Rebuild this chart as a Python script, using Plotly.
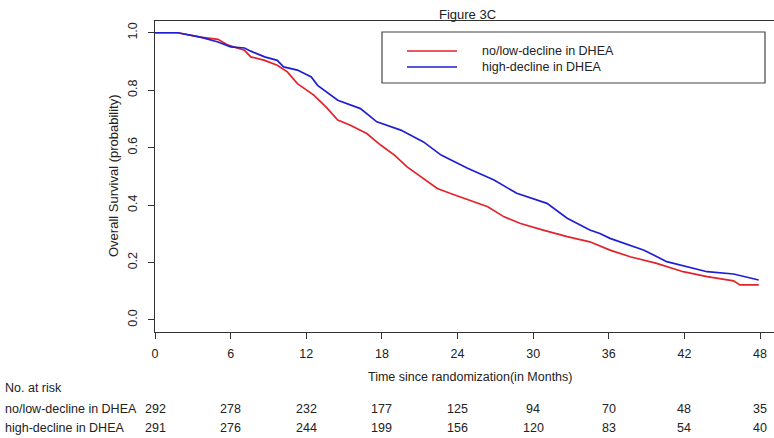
import plotly.graph_objects as go

# Kaplan-Meier curves (months, survival probability)
red_t = [0, 1.8, 3.6, 5.0, 5.8, 7.1, 7.6, 8.7, 9.7, 10.5, 11.3, 12.1, 12.6, 13.6, 14.5, 15.5,
         16.8, 17.9, 19.0, 20.0, 21.1, 22.4, 23.4, 25.0, 26.4, 27.7, 29.0, 30.8, 32.7, 34.5,
         36.1, 37.7, 39.8, 41.9, 43.8, 45.9, 46.4, 47.9]
red_s = [1.0, 1.0, 0.985, 0.977, 0.957, 0.939, 0.916, 0.904, 0.887, 0.864, 0.823, 0.800, 0.783,
         0.740, 0.696, 0.678, 0.649, 0.609, 0.574, 0.533, 0.498, 0.458, 0.441, 0.417, 0.394,
         0.359, 0.336, 0.313, 0.290, 0.272, 0.243, 0.220, 0.197, 0.168, 0.151, 0.136, 0.122, 0.122]

blue_t = [0, 1.8, 3.6, 5.0, 6.0, 7.1, 7.6, 8.7, 9.7, 10.2, 11.3, 12.4, 12.9, 14.5, 16.3, 17.6,
          19.5, 21.3, 22.7, 24.8, 26.9, 28.7, 31.1, 32.7, 34.5, 35.3, 36.1, 36.9, 38.8, 40.6,
          42.2, 43.8, 45.9, 47.2, 47.9]
blue_s = [1.0, 1.0, 0.985, 0.968, 0.951, 0.947, 0.936, 0.916, 0.904, 0.881, 0.870, 0.846, 0.817,
          0.765, 0.736, 0.690, 0.661, 0.620, 0.574, 0.528, 0.487, 0.441, 0.406, 0.354, 0.313,
          0.301, 0.284, 0.272, 0.243, 0.203, 0.186, 0.168, 0.160, 0.148, 0.139]

series_names = ["no/low-decline in DHEA", "high-decline in DHEA"]
risk_times = [0, 6, 12, 18, 24, 30, 36, 42, 48]
risk_red = [292, 278, 232, 177, 125, 94, 70, 48, 35]
risk_blue = [291, 276, 244, 199, 156, 120, 83, 54, 40]
x_ticks = [0, 6, 12, 18, 24, 30, 36, 42, 48]
y_ticks = [0.0, 0.2, 0.4, 0.6, 0.8, 1.0]

RED = "#e3232b"
BLUE = "#1f1fd2"
AXC = "#333333"
TXT = "#222222"
FONT = "Liberation Sans, Arial, sans-serif"
FS = 12.5

W, H = 774, 438
L, R, T, B = 155, 0, 21, 106
PW, PH = W - L - R, H - T - B


def px(xp):
    return (xp - L) / PW


def py(yp):
    return (H - B - yp) / PH


fig = go.Figure()
fig.add_trace(go.Scatter(x=red_t, y=red_s, mode="lines", name=series_names[0],
                         line=dict(color=RED, width=1.7), showlegend=False))
fig.add_trace(go.Scatter(x=blue_t, y=blue_s, mode="lines", name=series_names[1],
                         line=dict(color=BLUE, width=1.7), showlegend=False))

annotations = []
shapes = []

# title
annotations.append(dict(text="Figure 3C", x=px(467), y=py(14), xref="paper", yref="paper",
                        showarrow=False, xanchor="center", yanchor="middle",
                        font=dict(size=13, color=TXT, family=FONT)))

# legend box
shapes.append(dict(type="rect", xref="paper", yref="paper", x0=px(382), x1=px(765),
                   y0=py(83), y1=py(32), line=dict(color="#444444", width=1.2),
                   fillcolor="white", layer="above"))
for i, (c, yy) in enumerate([(RED, 51), (BLUE, 67)]):
    shapes.append(dict(type="line", xref="paper", yref="paper", x0=px(407), x1=px(457),
                       y0=py(yy), y1=py(yy), line=dict(color=c, width=1.4), layer="above"))
    annotations.append(dict(text=series_names[i], x=px(480), y=py(yy), xref="paper", yref="paper",
                            showarrow=False, xanchor="left", yanchor="middle",
                            font=dict(size=FS, color=TXT, family=FONT)))

# axis titles
annotations.append(dict(text="Time since randomization(in Months)", x=px(470), y=py(377),
                        xref="paper", yref="paper", showarrow=False, xanchor="center",
                        yanchor="middle", font=dict(size=FS, color=TXT, family=FONT)))
annotations.append(dict(text="Overall Survival (probability)", x=px(113), y=py(176),
                        xref="paper", yref="paper", showarrow=False, xanchor="center",
                        yanchor="middle", textangle=-90,
                        font=dict(size=13, color=TXT, family=FONT)))

# number at risk table
annotations.append(dict(text="No. at risk", x=px(3), y=py(388), xref="paper", yref="paper",
                        showarrow=False, xanchor="left", yanchor="middle",
                        font=dict(size=FS, color=TXT, family=FONT)))
for label, vals, yy in [(series_names[0], risk_red, 409), (series_names[1], risk_blue, 428)]:
    annotations.append(dict(text=label, x=px(3), y=py(yy), xref="paper", yref="paper",
                            showarrow=False, xanchor="left", yanchor="middle",
                            font=dict(size=FS, color=TXT, family=FONT)))
    for t, v in zip(risk_times, vals):
        annotations.append(dict(text=str(v), x=t, y=py(yy), xref="x", yref="paper",
                                showarrow=False, xanchor="center", yanchor="middle",
                                font=dict(size=FS, color=TXT, family=FONT)))

xmax = 48 * PW / 605.0

fig.update_layout(
    width=W, height=H, margin=dict(l=L, r=R, t=T, b=B, autoexpand=False),
    paper_bgcolor="white", plot_bgcolor="white",
    font=dict(family=FONT, size=FS, color=TXT),
    annotations=annotations, shapes=shapes, showlegend=False,
    xaxis=dict(range=[0, xmax], tickvals=x_ticks, ticktext=[str(v) for v in x_ticks],
               showline=True, linecolor=AXC, linewidth=1.2, mirror=True,
               ticks="outside", ticklen=6, tickcolor=AXC, tickwidth=1, ticklabelstandoff=4,
               showgrid=False, zeroline=False, tickfont=dict(size=FS, color=TXT, family=FONT)),
    yaxis=dict(range=[-0.042, 1.041], tickvals=y_ticks, ticktext=[f"{v:.1f}" for v in y_ticks],
               showline=True, linecolor=AXC, linewidth=1.2, mirror=False,
               ticks="outside", ticklen=6, tickcolor=AXC, tickwidth=1, tickangle=-90,
               ticklabelstandoff=6,
               showgrid=False, zeroline=False, tickfont=dict(size=FS, color=TXT, family=FONT)),
)

fig.write_html("out.html")
